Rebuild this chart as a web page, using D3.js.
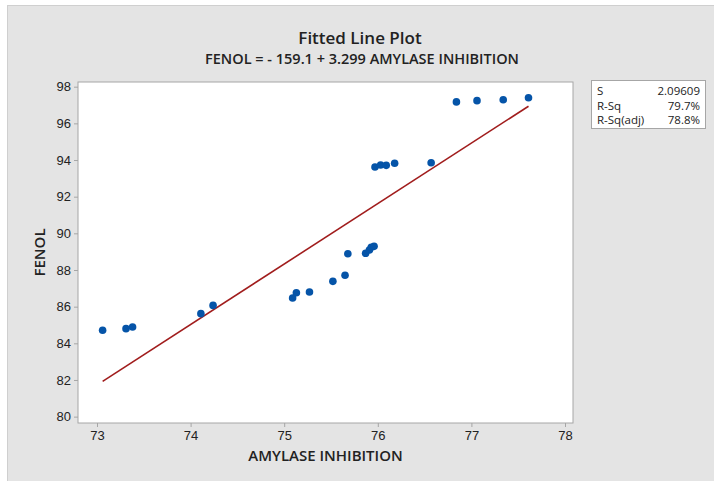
<!DOCTYPE html>
<html>
<head>
<meta charset="utf-8">
<script src="https://cdn.jsdelivr.net/npm/d3@7"></script>
<style>
  html, body { margin: 0; padding: 0; background: #fff; }
  svg { display: block; font-family: "Open Sans", "Noto Sans", sans-serif; }
</style>
</head>
<body>
<svg id="chart" width="714" height="481"></svg>
<script>
// data
const amylase = [73.06, 73.31, 73.38, 74.11, 74.24,
                 75.09, 75.13, 75.27, 75.52, 75.65,
                 75.68, 75.87, 75.91, 75.93, 75.96,
                 75.97, 76.03, 76.09, 76.18, 76.57,
                 76.84, 77.06, 77.34, 77.61];
const fenol   = [84.71, 84.80, 84.89, 85.62, 86.07,
                 86.47, 86.76, 86.80, 87.38, 87.71,
                 88.89, 88.91, 89.09, 89.24, 89.29,
                 93.62, 93.73, 93.71, 93.82, 93.85,
                 97.17, 97.24, 97.29, 97.40];
const intercept = -159.1;
const slope = 3.299;
const xTicks = [73, 74, 75, 76, 77, 78];
const yTicks = [80, 82, 84, 86, 88, 90, 92, 94, 96, 98];
const statLabels = ['S', 'R-Sq', 'R-Sq(adj)'];
const statValues = ['2.09609', '79.7%', '78.8%'];

const svg = d3.select('#chart');

// gray figure background
svg.append('rect')
  .attr('x', 7.5).attr('y', 5.5)
  .attr('width', 714).attr('height', 481)
  .attr('fill', '#e4e4e4')
  .attr('stroke', '#cfcfcf');

// plot region
const pL = 78, pR = 573, pT = 82, pB = 423;

const x = d3.scaleLinear()
  .domain([73 - 19 / 93.6, 78 + 8 / 93.6])
  .range([pL, pR]);
const y = d3.scaleLinear()
  .domain([98 - (pB - 86.7) / 18.33, 98 + (86.7 - pT) / 18.33])
  .range([pB, pT]);

svg.append('rect')
  .attr('x', pL).attr('y', pT)
  .attr('width', pR - pL).attr('height', pB - pT)
  .attr('fill', '#fff')
  .attr('stroke', '#a6a6a6');

// axes
const xAxis = svg.append('g')
  .attr('transform', `translate(0,${pB})`)
  .call(d3.axisBottom(x).tickValues(xTicks).tickSize(4).tickPadding(4).tickFormat(d3.format('d')));
const yAxis = svg.append('g')
  .attr('transform', `translate(${pL},0)`)
  .call(d3.axisLeft(y).tickValues(yTicks).tickSize(4).tickPadding(3).tickFormat(d3.format('d')));

[xAxis, yAxis].forEach(g => {
  g.select('.domain').remove();
  g.selectAll('.tick line').attr('stroke', '#a6a6a6');
  g.selectAll('.tick text')
    .attr('fill', '#222')
    .style('font-size', '13px');
});

// fitted line
const xs = d3.extent(amylase);
svg.append('path')
  .datum(xs.map(v => [v, intercept + slope * v]))
  .attr('d', d3.line().x(d => x(d[0])).y(d => y(d[1])))
  .attr('fill', 'none')
  .attr('stroke', '#a11d1d')
  .attr('stroke-width', 1.6);

// points
svg.append('g')
  .selectAll('circle')
  .data(amylase.map((v, i) => [v, fenol[i]]))
  .join('circle')
  .attr('cx', d => x(d[0]))
  .attr('cy', d => y(d[1]))
  .attr('r', 3.8)
  .attr('fill', '#0554a8');

// titles
svg.append('text')
  .attr('x', 360).attr('y', 44)
  .attr('text-anchor', 'middle')
  .style('font-size', '17px').style('font-weight', 600)
  .attr('fill', '#222')
  .text('Fitted Line Plot');
svg.append('text')
  .attr('x', 362).attr('y', 64)
  .attr('text-anchor', 'middle')
  .style('font-size', '14.5px').style('font-weight', 600)
  .attr('fill', '#222')
  .text('FENOL = - 159.1 + 3.299 AMYLASE INHIBITION');

// axis titles
svg.append('text')
  .attr('x', (pL + pR) / 2).attr('y', 461)
  .attr('text-anchor', 'middle')
  .style('font-size', '15px').style('font-weight', 600)
  .attr('fill', '#222')
  .text('AMYLASE INHIBITION');
svg.append('text')
  .attr('transform', `translate(45,${(pT + pB) / 2}) rotate(-90)`)
  .attr('text-anchor', 'middle')
  .style('font-size', '15px').style('font-weight', 600)
  .attr('fill', '#222')
  .text('FENOL');

// summary box
const box = svg.append('g').attr('transform', 'translate(591,80)');
box.append('rect')
  .attr('x', 0.5).attr('y', 0.5)
  .attr('width', 114).attr('height', 48)
  .attr('fill', '#fff')
  .attr('stroke', '#a6a6a6');
statLabels.forEach((s, i) => {
  box.append('text')
    .attr('x', 6).attr('y', 15 + i * 14.5)
    .style('font-size', '11.5px')
    .attr('fill', '#222')
    .text(s);
  box.append('text')
    .attr('x', 109).attr('y', 15 + i * 14.5)
    .attr('text-anchor', 'end')
    .style('font-size', '11.5px')
    .attr('fill', '#222')
    .text(statValues[i]);
});
</script>
</body>
</html>
